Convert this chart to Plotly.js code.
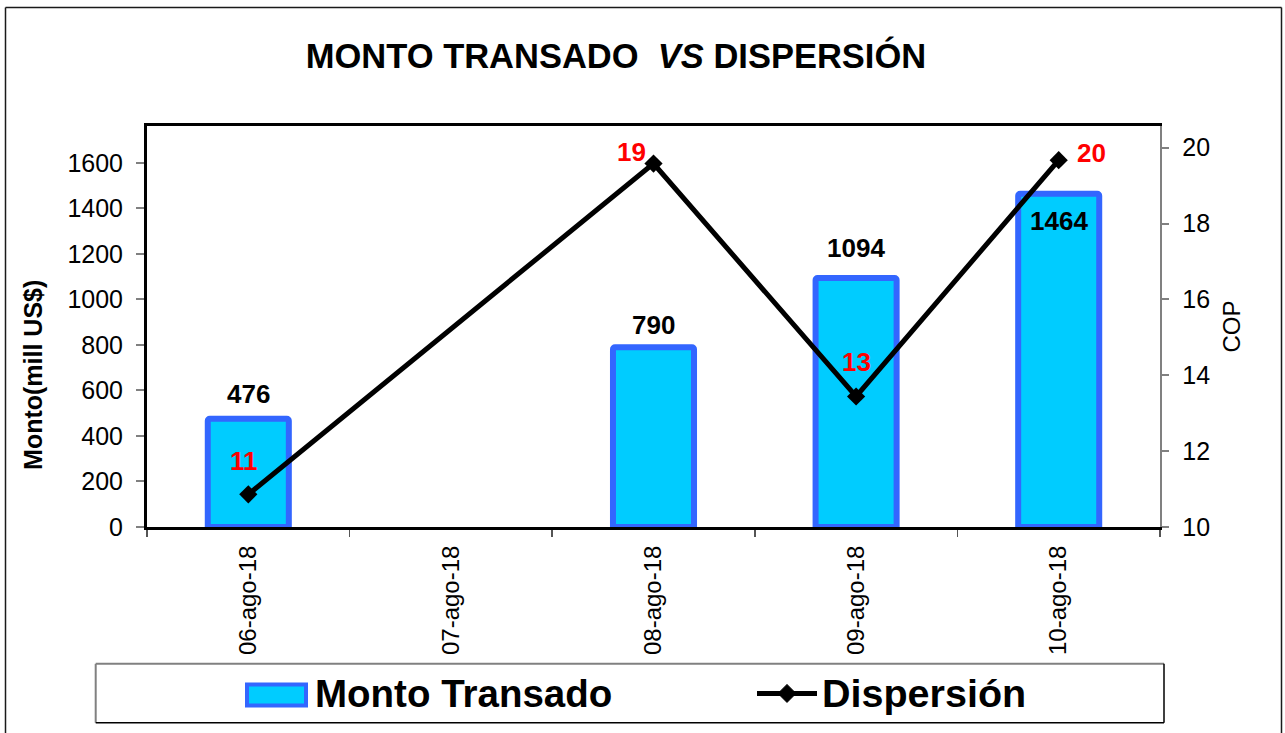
<!DOCTYPE html>
<html>
<head>
<meta charset="utf-8">
<script src="https://cdn.plot.ly/plotly-3.0.1.min.js"></script>
<style>
  html, body { margin: 0; padding: 0; background: #ffffff; }
  #chart { width: 1285px; height: 733px; }
</style>
</head>
<body>
<div id="chart"></div>
<script>
// ---------- DATA ----------
const categories = ['06-ago-18', '07-ago-18', '08-ago-18', '09-ago-18', '10-ago-18'];
const montoTransado = [476, null, 790, 1094, 1464];
const montoLabels = ['476', '', '790', '1094', '1464'];
const dispersion = [10.86, null, 19.58, 13.44, 19.67];
const dispersionLabels = ['11', '', '19', '13', '20'];

const seriesNames = ['Monto Transado', 'Dispersión'];
const chartTitle = 'MONTO TRANSADO  <i>VS</i> DISPERSIÓN';
const leftAxisTitle = 'Monto(mill US$)';
const rightAxisTitle = 'COP';

// ---------- STYLE / GEOMETRY ----------
const W = 1285, H = 733;
const plotL = 147, plotR = 1160, plotT = 125.7, plotB = 527.3;
const FONT = 'Liberation Sans, Arial, Helvetica, sans-serif';
const px2x = px => (px - plotL) / (plotR - plotL);
const px2y = py => (plotB - py) / (plotB - plotT);

// label offsets (pixels) - style only
const barLabelShift = [25, 0, 22, 30, -27];
const dispShiftX = [-4, 0, -22, 0, 33];
const dispShiftY = [33, 0, 12, 34, 7];

const barTrace = {
  type: 'bar',
  name: seriesNames[0],
  x: categories,
  y: montoTransado,
  width: 0.4,
  marker: { color: '#00CCFF', line: { color: '#3366FF', width: 6 }, cornerradius: 2 },
  yaxis: 'y',
  hoverinfo: 'x+y',
  showlegend: false
};

const lineTrace = {
  type: 'scatter',
  mode: 'lines+markers',
  name: seriesNames[1],
  x: categories,
  y: dispersion,
  connectgaps: true,
  yaxis: 'y2',
  line: { color: '#000000', width: 5 },
  marker: { symbol: 'diamond', size: 14, color: '#000000' },
  hoverinfo: 'x+y',
  showlegend: false,
  cliponaxis: false
};

const annotations = [];
// Bar value labels
categories.forEach((c, i) => {
  if (montoTransado[i] == null) return;
  annotations.push({
    x: c, y: montoTransado[i], xref: 'x', yref: 'y',
    text: '<b>' + montoLabels[i] + '</b>',
    showarrow: false, xanchor: 'center', yanchor: 'middle',
    yshift: barLabelShift[i],
    font: { family: FONT, size: 26, color: '#000000' }
  });
});
// Dispersion labels
categories.forEach((c, i) => {
  if (dispersion[i] == null) return;
  annotations.push({
    x: c, y: dispersion[i], xref: 'x', yref: 'y2',
    text: '<b>' + dispersionLabels[i] + '</b>',
    showarrow: false, xanchor: 'center', yanchor: 'middle',
    xshift: dispShiftX[i], yshift: dispShiftY[i],
    font: { family: FONT, size: 26, color: '#FF0000' }
  });
});
// Left axis title (positioned as in reference)
annotations.push({
  xref: 'paper', yref: 'paper', x: px2x(33), y: px2y(375),
  text: '<b>' + leftAxisTitle + '</b>', textangle: -90,
  showarrow: false, xanchor: 'center', yanchor: 'middle',
  font: { family: FONT, size: 25, color: '#000000' }
});
// Legend texts
annotations.push({
  xref: 'paper', yref: 'paper', x: px2x(313), y: px2y(694),
  text: '<b>' + seriesNames[0] + '</b>', showarrow: false,
  xanchor: 'left', yanchor: 'middle',
  font: { family: FONT, size: 38.5, color: '#000000' }
});
annotations.push({
  xref: 'paper', yref: 'paper', x: px2x(820), y: px2y(694),
  text: '<b>' + seriesNames[1] + '</b>', showarrow: false,
  xanchor: 'left', yanchor: 'middle',
  font: { family: FONT, size: 39.5, color: '#000000' }
});

const dx = 9, dcy = 694, dcx = 787;
const shapes = [
  // outer chart frame
  { type: 'line', xref: 'paper', yref: 'paper', x0: px2x(5.5), x1: px2x(5.5), y0: px2y(7), y1: px2y(740), line: { color: '#1a1a1a', width: 1.5 } },
  { type: 'line', xref: 'paper', yref: 'paper', x0: px2x(5.5), x1: px2x(1281.5), y0: px2y(7), y1: px2y(7), line: { color: '#1a1a1a', width: 1.5 } },
  { type: 'line', xref: 'paper', yref: 'paper', x0: px2x(1281.5), x1: px2x(1281.5), y0: px2y(7), y1: px2y(740), line: { color: '#1a1a1a', width: 1.5 } },
  // legend box
  { type: 'line', xref: 'paper', yref: 'paper', x0: px2x(95.7), x1: px2x(1164), y0: px2y(664.3), y1: px2y(664.3), line: { color: '#808080', width: 2 } },
  { type: 'line', xref: 'paper', yref: 'paper', x0: px2x(95.7), x1: px2x(95.7), y0: px2y(664.3), y1: px2y(723.3), line: { color: '#808080', width: 2 } },
  { type: 'line', xref: 'paper', yref: 'paper', x0: px2x(1164), x1: px2x(1164), y0: px2y(664.3), y1: px2y(723.3), line: { color: '#000000', width: 1.5 } },
  { type: 'line', xref: 'paper', yref: 'paper', x0: px2x(95.7), x1: px2x(1164), y0: px2y(723.3), y1: px2y(723.3), line: { color: '#000000', width: 1.5 } },
  // legend swatch for bars
  { type: 'rect', xref: 'paper', yref: 'paper', x0: px2x(247), x1: px2x(306), y0: px2y(685), y1: px2y(706), fillcolor: '#00CCFF', line: { color: '#3366FF', width: 4 } },
  // legend line for dispersion
  { type: 'line', xref: 'paper', yref: 'paper', x0: px2x(757), x1: px2x(817), y0: px2y(dcy), y1: px2y(dcy), line: { color: '#000000', width: 5 } },
  { type: 'path', xref: 'paper', yref: 'paper',
    path: 'M ' + px2x(dcx) + ',' + px2y(dcy - dx) + ' L ' + px2x(dcx + dx) + ',' + px2y(dcy) + ' L ' + px2x(dcx) + ',' + px2y(dcy + dx) + ' L ' + px2x(dcx - dx) + ',' + px2y(dcy) + ' Z',
    fillcolor: '#000000', line: { color: '#000000', width: 1 } }
];

const layout = {
  width: W, height: H,
  paper_bgcolor: '#ffffff', plot_bgcolor: '#ffffff',
  margin: { l: plotL, r: W - plotR, t: plotT, b: H - plotB, pad: 0 },
  font: { family: FONT, color: '#000000' },
  showlegend: false,
  title: {
    text: '<b>' + chartTitle + '</b>',
    x: 616 / W, xref: 'container', xanchor: 'center',
    y: 1 - 56 / H, yref: 'container', yanchor: 'middle',
    font: { family: FONT, size: 34.5, color: '#000000' }
  },
  xaxis: {
    type: 'category',
    categoryorder: 'array', categoryarray: categories,
    range: [-0.5, categories.length - 0.5],
    showline: true, linecolor: '#000000', linewidth: 3, mirror: true,
    ticks: 'outside', tickson: 'boundaries', ticklen: 7, tickwidth: 1.5, tickcolor: '#555555',
    tickangle: -90, ticklabelstandoff: 6,
    tickfont: { family: FONT, size: 24, color: '#000000' },
    showgrid: false, zeroline: false
  },
  yaxis: {
    range: [0, 1762], dtick: 200, tick0: 0,
    showline: true, linecolor: '#000000', linewidth: 3,
    ticks: 'outside', ticklen: 8, tickwidth: 2, tickcolor: '#808080',
    ticklabelstandoff: 8,
    tickfont: { family: FONT, size: 25, color: '#000000' },
    showgrid: false, zeroline: false
  },
  yaxis2: {
    overlaying: 'y', side: 'right',
    range: [10, 20.57], dtick: 2, tick0: 10,
    showline: true, linecolor: '#808080', linewidth: 2.3,
    ticks: 'outside', ticklen: 7, tickwidth: 2, tickcolor: '#808080',
    ticklabelstandoff: 8,
    tickfont: { family: FONT, size: 25, color: '#000000' },
    title: { text: rightAxisTitle, font: { family: FONT, size: 24, color: '#000000' }, standoff: 14 },
    showgrid: false, zeroline: false
  },
  annotations: annotations,
  shapes: shapes
};

Plotly.newPlot('chart', [barTrace, lineTrace], layout, { displayModeBar: false, staticPlot: true });
</script>
</body>
</html>
